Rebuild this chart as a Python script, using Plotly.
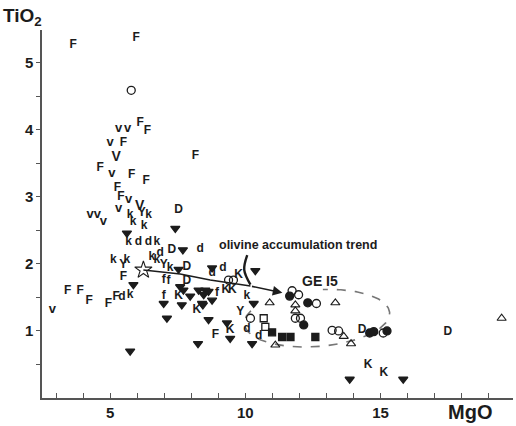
import numpy as np
import plotly.graph_objects as go

INK = "#1c1c1c"
FONT = "Liberation Sans, Arial, sans-serif"

# ---- data (MgO, TiO2) per symbol ----
F_x = [3.63, 5.89, 5.96, 6.11, 6.38, 5.49, 8.15, 4.63, 5.80, 6.33, 5.27, 5.40, 5.49, 3.43, 3.89, 4.22, 4.94, 5.22, 8.89]
F_y = [5.27, 5.51, 5.37, 4.10, 3.98, 3.80, 3.61, 3.43, 3.33, 3.23, 3.13, 3.00, 1.81, 1.60, 1.60, 1.44, 1.40, 1.50, 0.94]

v_x = [5.31, 5.65, 5.00, 5.06, 5.68, 5.31, 4.26, 4.53, 4.75, 2.86]
v_y = [4.01, 4.01, 3.81, 3.34, 2.96, 2.83, 2.73, 2.73, 2.63, 1.31]

V_x = [5.22, 6.09]
V_y = [3.59, 2.86]

Y_x = [6.17, 5.49, 6.98, 9.81]
Y_y = [2.76, 1.99, 1.99, 1.28]

k_x = [5.74, 5.85, 6.42, 6.26, 5.68, 6.73, 5.12, 5.62, 6.54, 6.73, 7.22, 5.74, 10.06]
k_y = [2.73, 2.63, 2.73, 2.56, 2.33, 2.33, 2.06, 2.06, 2.11, 2.06, 1.94, 1.54, 1.52]

d_x = [6.05, 6.42, 8.33, 6.85, 9.17, 8.77, 5.44, 10.06, 10.49]
d_y = [2.33, 2.33, 2.23, 2.16, 1.94, 1.86, 1.50, 1.03, 0.93]

D_x = [7.53, 7.28, 7.84, 7.84, 14.32, 17.49]
D_y = [2.81, 2.21, 1.95, 1.74, 1.01, 0.99]

K_x = [8.21, 9.75, 9.28, 9.52, 7.53, 9.44, 14.54, 15.12]
K_y = [1.31, 1.84, 1.61, 1.61, 1.52, 1.01, 0.49, 0.38]

f_x = [6.98, 7.16, 8.95, 6.98]
f_y = [1.76, 1.74, 1.56, 1.52]

tri_x = [7.41, 5.62, 7.69, 7.53, 8.77, 5.86, 5.74, 7.59, 7.71, 8.27, 8.52, 8.64, 8.46, 7.96,
         6.98, 8.40, 7.65, 8.43, 7.10, 8.64, 9.32, 9.44, 8.25, 10.25, 10.37, 10.31, 13.86, 15.84, 8.77]
tri_y = [2.53, 2.46, 2.21, 1.92, 1.94, 1.69, 0.70, 1.66, 1.61, 1.61, 1.61, 1.59, 1.54, 1.52,
         1.41, 1.41, 1.39, 1.39, 1.19, 1.17, 1.12, 0.89, 0.81, 0.81, 1.90, 1.41, 0.28, 0.28, 1.46]

ocirc_x = [5.78, 9.38, 9.56, 11.73, 11.97, 12.63, 10.19, 11.85, 12.04, 13.21, 13.45, 15.10]
ocirc_y = [4.59, 1.76, 1.76, 1.60, 1.54, 1.41, 1.19, 1.19, 1.19, 1.01, 1.00, 0.97]

fcirc_x = [11.64, 12.31, 12.16, 14.60, 14.75, 15.24]
fcirc_y = [1.52, 1.42, 1.09, 0.97, 0.99, 1.00]

otri_x = [10.90, 13.33, 11.85, 11.85, 11.11, 13.64, 13.91, 19.48]
otri_y = [1.42, 1.42, 1.39, 1.30, 0.79, 0.92, 0.81, 1.19]

osq_x = [10.68, 10.74]
osq_y = [1.19, 1.06]

fsq_x = [10.99, 11.36, 11.67, 12.59]
fsq_y = [0.98, 0.91, 0.91, 0.91]

star_x = [6.23]
star_y = [1.91]

# olivine accumulation trend line
trend_x = [6.23, 7.59, 8.70, 10.19]
trend_y = [1.91, 1.85, 1.76, 1.67]
arrow_tip = (11.37, 1.57)

# bracket near trend
brk_x = [10.07, 9.96, 10.19]
brk_y = [2.13, 1.91, 1.69]

# GE15 field (dashed ellipse parameters)
ell_cx, ell_cy, ell_a, ell_b, ell_shear = 12.65, 1.19, 2.65, 0.43, 0.45

x_ticks = list(range(3, 21))
x_labels = {5: "5", 10: "10", 15: "15"}
y_ticks = [0.5, 1, 1.5, 2, 2.5, 3, 3.5, 4, 4.5, 5]
y_labels = {1: "1", 2: "2", 3: "3", 4: "4", 5: "5"}

fig = go.Figure()

def letters(xs, ys, ch, size=12):
    fig.add_trace(go.Scatter(x=xs, y=ys, mode="text", text=[ch] * len(xs), cliponaxis=False,
                             textfont=dict(family=FONT, size=size, color=INK, weight="bold"),
                             hoverinfo="skip", showlegend=False))

def marks(xs, ys, sym, size=7, width=1.3):
    fig.add_trace(go.Scatter(x=xs, y=ys, mode="markers", cliponaxis=False,
                             marker=dict(symbol=sym, size=size, color=INK,
                                         line=dict(color=INK, width=width)),
                             hoverinfo="skip", showlegend=False))

# trend line and bracket
fig.add_trace(go.Scatter(x=trend_x, y=trend_y, mode="lines", line=dict(color=INK, width=1.6),
                         hoverinfo="skip", showlegend=False))
fig.add_trace(go.Scatter(x=brk_x, y=brk_y, mode="lines", line=dict(color=INK, width=2.4, shape="spline"),
                         hoverinfo="skip", showlegend=False))
fig.add_annotation(x=arrow_tip[0], y=arrow_tip[1], ax=trend_x[-1], ay=trend_y[-1],
                   xref="x", yref="y", axref="x", ayref="y", text="", showarrow=True,
                   arrowhead=2, arrowsize=1.2, arrowwidth=1.6, arrowcolor=INK)

# GE15 dashed ellipse
t = np.radians(np.linspace(165, 455, 200))
ex = ell_cx + ell_a * np.cos(t) + ell_shear * np.sin(t)
ey = ell_cy + ell_b * np.sin(t)
fig.add_trace(go.Scatter(x=ex, y=ey, mode="lines", line=dict(color="#777", width=1.6, dash="dash"),
                         hoverinfo="skip", showlegend=False))

letters(F_x, F_y, "F")
letters(v_x, v_y, "v", 13)
letters(V_x, V_y, "V", 14)
letters(Y_x, Y_y, "Y")
letters(k_x, k_y, "k")
letters(d_x, d_y, "d")
letters(D_x, D_y, "D")
letters(K_x, K_y, "K")
letters(f_x, f_y, "f")

marks(tri_x, tri_y, "triangle-down", 8)
marks(ocirc_x, ocirc_y, "circle-open", 8)
marks(fcirc_x, fcirc_y, "circle", 8)
marks(otri_x, otri_y, "triangle-up-open", 8, 1.1)
marks(osq_x, osq_y, "square-open", 7)
marks(fsq_x, fsq_y, "square", 7)
marks(star_x, star_y, "star-open", 13, 1.1)

fig.add_annotation(x=11.93, y=2.28, xref="x", yref="y", text="<b>olivine accumulation trend</b>",
                   showarrow=False, font=dict(family=FONT, size=12.5, color=INK))
fig.add_annotation(x=12.78, y=1.74, xref="x", yref="y", text="<b>GE I5</b>",
                   showarrow=False, font=dict(family=FONT, size=14, color=INK))
fig.add_annotation(x=0.909, y=-0.038, xref="paper", yref="paper", text="<b>MgO</b>",
                   xanchor="center", yanchor="middle",
                   showarrow=False, font=dict(family=FONT, size=20, color=INK))
fig.add_annotation(x=-0.042, y=1.035, xref="paper", yref="paper", text="<b>TiO<sub>2</sub></b>",
                   xanchor="center", yanchor="middle",
                   showarrow=False, font=dict(family=FONT, size=19, color=INK))

fig.update_layout(
    width=516, height=426,
    margin=dict(l=42, r=3, t=30, b=28, autoexpand=False),
    paper_bgcolor="white", plot_bgcolor="white",
    xaxis=dict(range=[2.48, 19.9], showgrid=False, zeroline=False, showline=True, automargin=False,
               linecolor="#555", linewidth=1.5, ticks="inside", ticklen=5, tickwidth=1.3,
               tickcolor="#555", tickvals=x_ticks,
               ticktext=[x_labels.get(v, "") for v in x_ticks],
               tickfont=dict(family=FONT, size=15, color=INK, weight="bold")),
    yaxis=dict(range=[0, 5.49], showgrid=False, zeroline=False, showline=True, automargin=False,
               linecolor="#555", linewidth=1.5, ticks="outside", ticklen=4, tickwidth=1.3,
               tickcolor="#555", tickvals=y_ticks,
               ticktext=[y_labels.get(v, "") for v in y_ticks],
               tickfont=dict(family=FONT, size=15, color=INK, weight="bold")),
)

fig.write_html("out.html", config={"displayModeBar": False},
               post_script="document.body.style.margin='0';document.body.style.overflow='hidden';")
